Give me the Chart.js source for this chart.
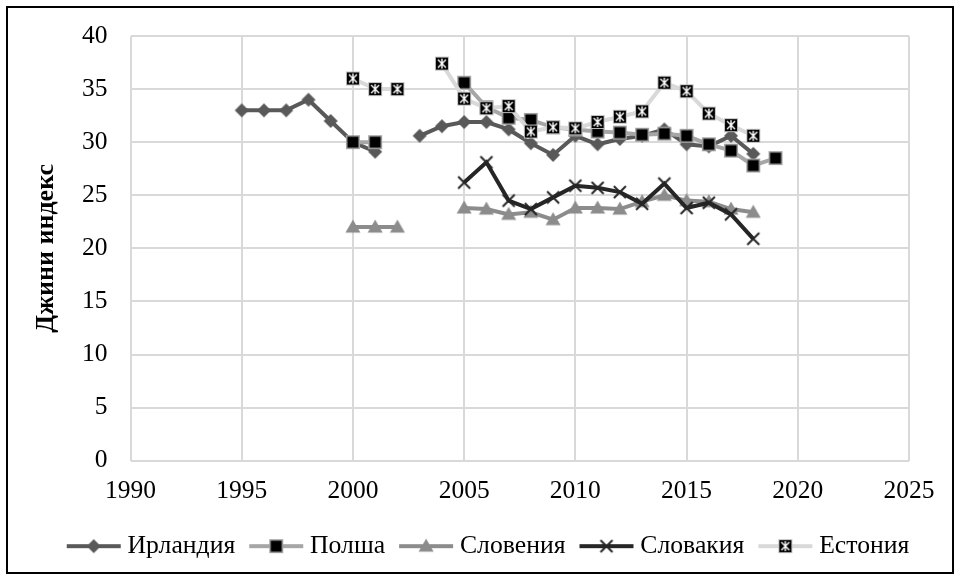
<!DOCTYPE html>
<html>
<head>
<meta charset="utf-8">
<script src="https://cdn.jsdelivr.net/npm/chart.js@4"></script>
<style>
  body { margin: 0; background: #fff; }
  #box { position: absolute; left: 6px; top: 6px; width: 944px; height: 564px; border: 2px solid #000; }
  canvas { display: block; }
</style>
</head>
<body>
<div id="box"><canvas id="myChart" width="944" height="564"></canvas></div>
<script>
// Gini index by country, 1995-2019 (null = no data)
let years = [1995, 1996, 1997, 1998, 1999, 2000, 2001, 2002, 2003, 2004, 2005, 2006, 2007,
             2008, 2009, 2010, 2011, 2012, 2013, 2014, 2015, 2016, 2017, 2018, 2019];

let ireland  = [33, 33, 33, 34, 32, 30, 29.1, null, 30.6, 31.5, 31.9, 31.9, 31.2,
                29.9, 28.8, 30.6, 29.8, 30.3, 30.6, 31.2, 29.8, 29.6, 30.6, 28.9, null];
let poland   = [null, null, null, null, null, 30, 30, null, null, null, 35.6, 33.3, 32.3,
                32.1, 31.4, 31.2, 31.0, 30.9, 30.7, 30.8, 30.6, 29.8, 29.2, 27.8, 28.5];
let slovenia = [null, null, null, null, null, 22, 22, 22, null, null, 23.8, 23.7, 23.2,
                23.4, 22.7, 23.8, 23.8, 23.7, 24.4, 25.0, 24.5, 24.4, 23.7, 23.4, null];
let slovakia = [null, null, null, null, null, null, null, null, null, null, 26.2, 28.1, 24.5,
                23.7, 24.8, 25.9, 25.7, 25.3, 24.2, 26.1, 23.8, 24.3, 23.2, 20.9, null];
let estonia  = [null, null, null, null, null, 36.0, 35.0, 35.0, null, 37.4, 34.1, 33.2, 33.4,
                31.0, 31.4, 31.3, 31.9, 32.4, 32.9, 35.6, 34.8, 32.7, 31.6, 30.6, null];

let seriesNames = ['Ирландия', 'Полша', 'Словения', 'Словакия', 'Естония'];
let yearTicks = [1990, 1995, 2000, 2005, 2010, 2015, 2020, 2025];
let valueTicks = [0, 5, 10, 15, 20, 25, 30, 35, 40];

let lineColors = ['#595959', '#a6a6a6', '#8c8c8c', '#262626', '#d9d9d9'];

function toPoints(values) {
  return years.map(function(y, i) { return { x: y, y: values[i] }; });
}

// marker painters, centred at (cx, cy)
function paintDiamond(c, cx, cy) {
  c.fillStyle = '#595959';
  c.beginPath();
  c.moveTo(cx, cy - 7); c.lineTo(cx + 7, cy); c.lineTo(cx, cy + 7); c.lineTo(cx - 7, cy);
  c.closePath(); c.fill();
}
function paintSquare(c, cx, cy) {
  c.fillStyle = '#a6a6a6';
  c.fillRect(cx - 7, cy - 7, 14, 14);
  c.fillStyle = '#000';
  c.fillRect(cx - 5.5, cy - 5.5, 11, 11);
}
function paintTriangle(c, cx, cy) {
  c.fillStyle = '#8c8c8c';
  c.beginPath();
  c.moveTo(cx, cy - 7.5); c.lineTo(cx + 7.5, cy + 5.5); c.lineTo(cx - 7.5, cy + 5.5);
  c.closePath(); c.fill();
}
function paintCross(c, cx, cy) {
  c.strokeStyle = '#262626';
  c.lineWidth = 2;
  c.beginPath();
  c.moveTo(cx - 6, cy - 6); c.lineTo(cx + 6, cy + 6);
  c.moveTo(cx + 6, cy - 6); c.lineTo(cx - 6, cy + 6);
  c.stroke();
}
function paintStarBox(c, cx, cy) {
  c.fillStyle = '#bfbfbf';
  c.fillRect(cx - 7, cy - 7, 14, 14);
  c.fillStyle = '#000';
  c.fillRect(cx - 6, cy - 6, 12, 12);
  c.strokeStyle = '#fff';
  c.lineWidth = 1.4;
  c.beginPath();
  c.moveTo(cx - 4, cy - 4); c.lineTo(cx + 4, cy + 4);
  c.moveTo(cx + 4, cy - 4); c.lineTo(cx - 4, cy + 4);
  c.moveTo(cx, cy - 5); c.lineTo(cx, cy + 5);
  c.stroke();
}

let painters = [paintDiamond, paintSquare, paintTriangle, paintCross, paintStarBox];

function markerCanvas(paint) {
  let cv = document.createElement('canvas');
  cv.width = 16; cv.height = 16;
  paint(cv.getContext('2d'), 8, 8);
  return cv;
}

// legend icon: line with marker; canvas is wider on the left so the
// gap before the label stays small
function legendIcon(i) {
  let cv = document.createElement('canvas');
  cv.width = 64; cv.height = 18;
  let c = cv.getContext('2d');
  c.strokeStyle = lineColors[i];
  c.lineWidth = 4;
  c.beginPath(); c.moveTo(9, 9); c.lineTo(63, 9); c.stroke();
  painters[i](c, 36, 9);
  return cv;
}

let allValues = [ireland, poland, slovenia, slovakia, estonia];
let datasets = allValues.map(function(vals, i) {
  return {
    label: seriesNames[i],
    data: toPoints(vals),
    borderColor: lineColors[i],
    borderWidth: 4,
    pointStyle: markerCanvas(painters[i]),
    pointRadius: 7,
    spanGaps: false,
    tension: 0,
    order: 5 - i
  };
});
let legendIcons = allValues.map(function(v, i) { return legendIcon(i); });

// the legend in the original sits a little right of centre
let legendShift = {
  id: 'legendShift',
  afterLayout: function(chart) {
    if (chart.legend) { chart.legend.left += 16; chart.legend.right += 16; }
  }
};

var fontName = 'Liberation Serif';
Chart.defaults.font.family = fontName;
Chart.defaults.font.size = 25;
Chart.defaults.color = '#000';

function draw() {
  var ctx = document.getElementById('myChart').getContext('2d');
  var chart = new Chart(ctx, {
    type: 'line',
    data: { datasets: datasets },
    plugins: [legendShift],
    options: {
      responsive: false,
      animation: false,
      events: [],
      layout: { padding: { top: 28, right: 43, left: 25, bottom: 3 } },
      scales: {
        x: {
          type: 'linear',
          min: 1990, max: 2025,
          afterBuildTicks: function(axis) { axis.ticks = yearTicks.map(function(v) { return { value: v }; }); },
          afterFit: function(axis) { axis.paddingLeft = 0; axis.paddingRight = 0; },
          grid: { color: '#d9d9d9', lineWidth: 2, drawTicks: false },
          border: { display: false },
          ticks: {
            padding: 15,
            color: '#000',
            font: { family: fontName, size: 25.5 },
            maxRotation: 0,
            callback: function(v) { return String(v); }
          }
        },
        y: {
          min: 0, max: 40,
          afterBuildTicks: function(axis) { axis.ticks = valueTicks.map(function(v) { return { value: v }; }); },
          afterFit: function(axis) { axis.paddingTop = 0; axis.paddingBottom = 0; },
          grid: { color: '#d9d9d9', lineWidth: 2, drawTicks: false },
          border: { display: false },
          title: {
            display: true,
            text: 'Джини индекс',
            color: '#000',
            font: { family: fontName, size: 26, weight: 'bold', lineHeight: 1 },
            padding: { top: 0, bottom: 0 }
          },
          ticks: {
            padding: 23,
            color: '#000',
            font: { family: fontName, size: 25.5 }
          }
        }
      },
      plugins: {
        tooltip: { enabled: false },
        legend: {
          position: 'bottom',
          labels: {
            usePointStyle: true,
            pointStyleWidth: 50,
            padding: 12,
            color: '#000',
            font: { family: fontName, size: 25.7 },
            sort: function(a, b) { return a.datasetIndex - b.datasetIndex; },
            generateLabels: function(chart) {
              let items = Chart.defaults.plugins.legend.labels.generateLabels(chart);
              items.forEach(function(it) { it.pointStyle = legendIcons[it.datasetIndex]; });
              return items;
            }
          }
        }
      }
    }
  });
}

Promise.all([
  document.fonts.load("25px 'Liberation Serif'"),
  document.fonts.load("bold 25px 'Liberation Serif'")
]).then(draw, draw);
</script>
</body>
</html>
